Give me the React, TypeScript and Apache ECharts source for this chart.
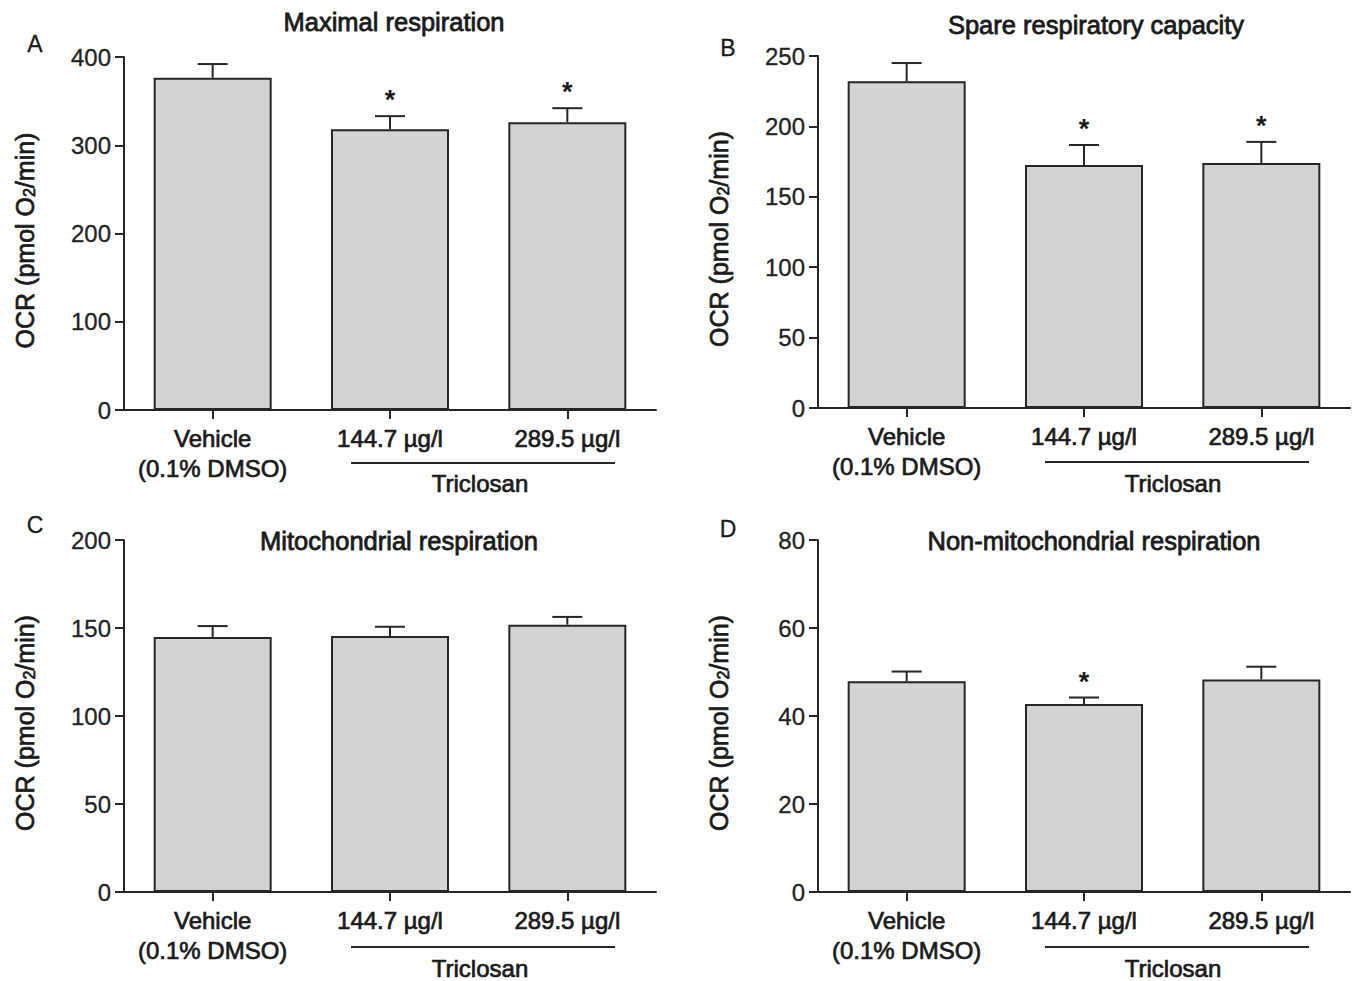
import React, { useEffect, useRef } from 'react';
import * as echarts from 'echarts';

// ---------------- data ----------------
const categories = ['Vehicle\n(0.1% DMSO)', '144.7 µg/l', '289.5 µg/l'];
const groupLabel = 'Triclosan';
const panelTitles = [
  'Maximal respiration',
  'Spare respiratory capacity',
  'Mitochondrial respiration',
  'Non-mitochondrial respiration',
];
const panelLetters = ['A', 'B', 'C', 'D'];

// mean values
const maximalMean = [376.5, 318, 326];
const spareMean = [232, 172.6, 174];
const mitoMean = [144.9, 145.5, 151.9];
const nonMitoMean = [47.9, 42.7, 48.3];

// upper end of error bars (mean + SEM)
const maximalErr = [392, 333, 342];
const spareErr = [245, 186.8, 189];
const mitoErr = [151.1, 150.7, 156.3];
const nonMitoErr = [50.1, 44.2, 51.2];

// significance flags (1 = *)
const maximalStar = [0, 1, 1];
const spareStar = [0, 1, 1];
const mitoStar = [0, 0, 0];
const nonMitoStar = [0, 1, 0];

// axis ranges
const yMaxes = [400, 250, 200, 80];
const yIntervals = [100, 50, 50, 20];

// ---------------- layout / style ----------------
const FONT = '"Liberation Sans", Arial, Helvetica, sans-serif';
const INK = '#262626';
const TEXT = '#1a1a1a';
const BAR_FILL = '#d3d3d3';

const grids = [
  { left: 124, top: 57, width: 532, height: 353 },
  { left: 818, top: 56, width: 532, height: 352 },
  { left: 124, top: 540, width: 532, height: 352 },
  { left: 818, top: 540, width: 532, height: 352 },
];
const titlePos = [
  [394, 22],
  [1096, 25],
  [399, 541],
  [1094, 541],
];
const letterPos = [
  [35, 44],
  [728, 48],
  [35, 525],
  [728, 529],
];
const bracketLine = [
  [351, 615, 463],
  [1045, 1309, 462],
  [351, 615, 947],
  [1045, 1309, 947],
];
const bracketText = [
  [480, 483],
  [1173, 483],
  [480, 968],
  [1173, 968],
];

const means = [maximalMean, spareMean, mitoMean, nonMitoMean];
const errs = [maximalErr, spareErr, mitoErr, nonMitoErr];
const stars = [maximalStar, spareStar, mitoStar, nonMitoStar];

const heavy = { textBorderColor: TEXT, textBorderWidth: 0.7 };

function buildOption() {
  const grid = grids.map((g) => ({ ...g, containLabel: false }));

  const xAxis = grids.map((_, i) => ({
    type: 'category',
    gridIndex: i,
    data: categories,
    axisLine: { show: true, lineStyle: { color: INK, width: 2 } },
    axisTick: { show: true, alignWithLabel: true, length: 9, lineStyle: { color: INK, width: 2 } },
    axisLabel: {
      margin: 13,
      fontFamily: FONT,
      fontSize: 24,
      color: TEXT,
      lineHeight: 30,
      interval: 0,
      ...heavy,
    },
    splitLine: { show: false },
  }));

  const yAxis = grids.map((_, i) => ({
    type: 'value',
    gridIndex: i,
    min: 0,
    max: yMaxes[i],
    interval: yIntervals[i],
    axisLine: { show: true, lineStyle: { color: INK, width: 2 } },
    axisTick: { show: true, length: 9, lineStyle: { color: INK, width: 2 } },
    axisLabel: {
      margin: 13,
      fontFamily: FONT,
      fontSize: 24,
      color: '#222',
      textBorderColor: '#222',
      textBorderWidth: 0.3,
    },
    splitLine: { show: false },
    name: '{a|OCR (pmol O}{s|2}{b|/min)}',
    nameLocation: 'middle',
    nameGap: 87,
    nameTextStyle: {
      rich: {
        a: { fontFamily: FONT, fontSize: 25, color: TEXT, ...heavy },
        s: {
          fontFamily: FONT,
          fontSize: 16,
          color: TEXT,
          verticalAlign: 'bottom',
          lineHeight: 10,
          ...heavy,
        },
        b: { fontFamily: FONT, fontSize: 25, color: TEXT, padding: [0, 14, 0, 0], ...heavy },
      },
    },
  }));

  const series: any[] = [];
  for (let i = 0; i < 4; i++) {
    series.push({
      type: 'bar',
      xAxisIndex: i,
      yAxisIndex: i,
      data: means[i],
      barWidth: 118,
      itemStyle: { color: BAR_FILL, borderColor: INK, borderWidth: 2 },
      silent: true,
      z: 2,
    });
    series.push({
      type: 'custom',
      xAxisIndex: i,
      yAxisIndex: i,
      z: 3,
      silent: true,
      data: means[i].map((m, k) => [k, m, errs[i][k], stars[i][k]]),
      renderItem: (params: any, api: any) => {
        const idx = api.value(0);
        const top = api.coord([idx, api.value(1)]);
        const cap = api.coord([idx, api.value(2)]);
        const lineStyle = { stroke: INK, lineWidth: 2 };
        const children: any[] = [
          { type: 'line', shape: { x1: top[0], y1: top[1], x2: cap[0], y2: cap[1] }, style: lineStyle },
          { type: 'line', shape: { x1: cap[0] - 15, y1: cap[1], x2: cap[0] + 15, y2: cap[1] }, style: lineStyle },
        ];
        if (api.value(3)) {
          children.push({
            type: 'text',
            x: cap[0],
            y: cap[1] - 16,
            style: {
              text: '*',
              fontFamily: FONT,
              fontSize: 27,
              fontWeight: 'bold',
              fill: TEXT,
              textAlign: 'center',
              textVerticalAlign: 'middle',
            },
          });
        }
        return { type: 'group', children };
      },
    });
  }

  const textStyle = (text: string, size: number, stroke: number) => ({
    text,
    fontFamily: FONT,
    fontSize: size,
    fill: TEXT,
    stroke: stroke > 0 ? TEXT : undefined,
    lineWidth: stroke,
    textAlign: 'center',
    textVerticalAlign: 'middle',
  });

  const graphic: any[] = [];
  for (let i = 0; i < 4; i++) {
    graphic.push({
      type: 'text',
      x: titlePos[i][0],
      y: titlePos[i][1],
      style: textStyle(panelTitles[i], 25.5, 0.8),
    });
    graphic.push({
      type: 'text',
      x: letterPos[i][0],
      y: letterPos[i][1],
      style: textStyle(panelLetters[i], 23, 0.3),
    });
    graphic.push({
      type: 'line',
      shape: { x1: bracketLine[i][0], y1: bracketLine[i][2], x2: bracketLine[i][1], y2: bracketLine[i][2] },
      style: { stroke: INK, lineWidth: 2 },
    });
    graphic.push({
      type: 'text',
      x: bracketText[i][0],
      y: bracketText[i][1],
      style: textStyle(groupLabel, 24, 0.7),
    });
  }

  return {
    animation: false,
    backgroundColor: '#ffffff',
    grid,
    xAxis,
    yAxis,
    series,
    graphic,
  };
}

export default function App() {
  const ref = useRef<HTMLDivElement>(null);
  useEffect(() => {
    if (!ref.current) return;
    const chart = echarts.init(ref.current, null, { renderer: 'svg' });
    chart.setOption(buildOption() as any);
    return () => chart.dispose();
  }, []);
  return (
    <div
      ref={ref}
      style={{ position: 'fixed', left: 0, top: 0, width: 1355, height: 981, background: '#fff' }}
    />
  );
}
